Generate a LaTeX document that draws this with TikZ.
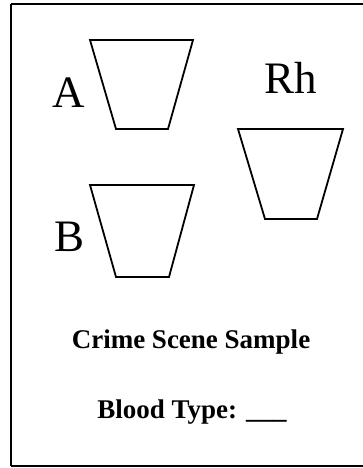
\documentclass[tikz,border=0pt]{standalone}
\usepackage{fontspec}
\setmainfont{Liberation Serif}
\begin{document}
\begin{tikzpicture}[x=1pt,y=-1pt,
  cup/.style={draw=black,line width=1.8pt,line join=miter},
  letter/.style={font=\fontsize{45}{45}\selectfont,anchor=base,inner sep=0pt},
  caption/.style={font=\bfseries\fontsize{27}{27}\selectfont,anchor=base,inner sep=0pt}]
  \clip (0,0) rectangle (363,468);
  \fill[white] (0,0) rectangle (363,468);
  % card frame, running off the right edge
  \draw[line width=1.6pt] (11,4) -- (375,4);
  \draw[line width=2pt] (11,4) -- (11,466);
  \draw[line width=1.8pt] (11,466) -- (375,466);
  % sample wells
  \draw[cup] (90,40) -- (193,40) -- (168,129) -- (116,129) -- cycle;
  \draw[cup] (90,185) -- (194,185) -- (169,277) -- (116,277) -- cycle;
  \draw[cup] (238,129) -- (343,129) -- (317,219) -- (265,219) -- cycle;
  % labels
  \node[letter] (lA) at (69,107) {A};
  \node[letter] (lB) at (70,251) {B};
  \node[letter] (lRh) at (291,94) {Rh};
  \node[caption] (title) at (191,348) {Crime Scene Sample};
  \node[caption] (type) at (192,418) {Blood Type: \_\_\_};
\end{tikzpicture}
\end{document}
